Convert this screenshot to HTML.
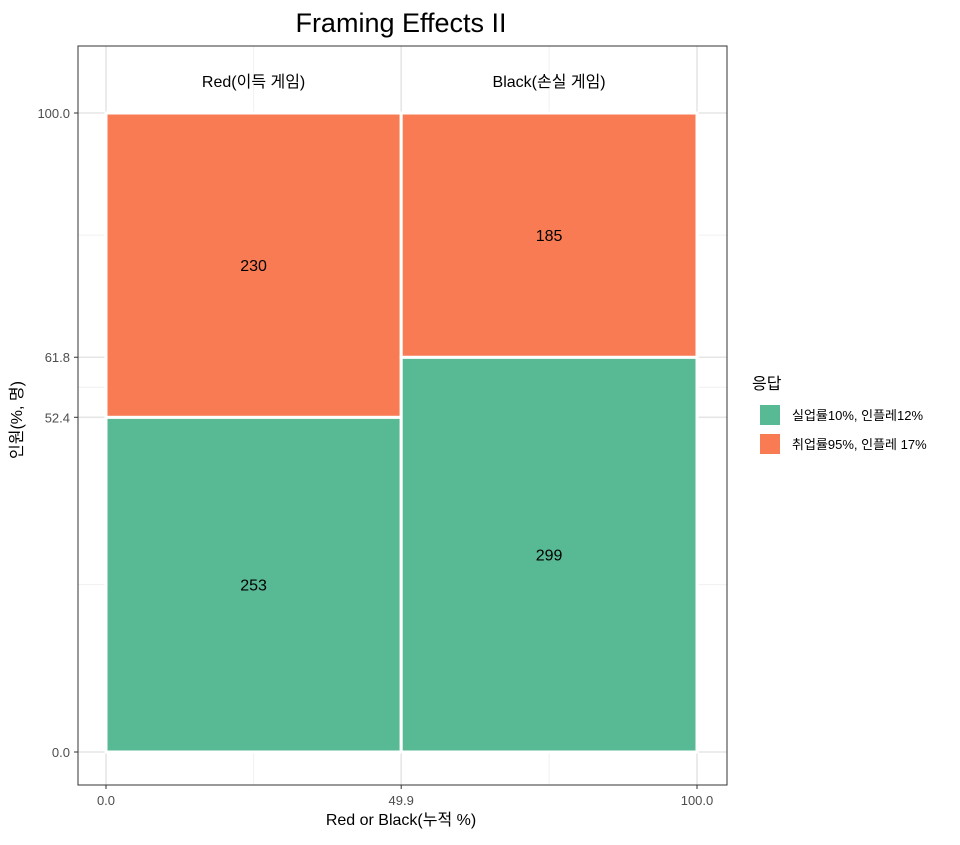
<!DOCTYPE html>
<html><head><meta charset="utf-8"><style>
body{margin:0;background:#fff;}
svg text{font-family:"Liberation Sans","Noto Sans CJK KR",sans-serif;}
</style></head><body>
<svg id="chart" width="960" height="840" xmlns="http://www.w3.org/2000/svg">
<rect width="960" height="840" fill="#fff"/>
<text x="401" y="32" font-size="27" text-anchor="middle" fill="#000">Framing Effects II</text>
<g id="grid"></g>
<g id="marks"></g>
<g id="axes"></g>
<rect x="78" y="46" width="649" height="739" fill="none" stroke="#333" stroke-width="1"/>
<text x="401" y="825" font-size="16" text-anchor="middle">Red or Black(누적 %)</text>
<text transform="translate(22,420) rotate(-90)" font-size="16" text-anchor="middle">인원(%, 명)</text>
<g>
<text x="752" y="389" font-size="16">응답</text>
<rect x="760" y="405" width="20" height="20" fill="#58B995"/>
<text x="792" y="420" font-size="13">실업률10%, 인플레12%</text>
<rect x="760" y="434" width="20" height="20" fill="#F97B53"/>
<text x="792" y="449" font-size="13">취업률95%, 인플레 17%</text>
</g>
</svg>
<script>
const categories=["Red(이득 게임)","Black(손실 게임)"];
const greenCounts=[253,299];
const orangeCounts=[230,185];
const colors=["#58B995","#F97B53"];
const ns="http://www.w3.org/2000/svg";
const X0=106,X1=697,Y0=752,Y1=113;
const xs=v=>X0+(X1-X0)*v/100, ys=v=>Y0-(Y0-Y1)*v/100;
function mk(tag,attrs,parent){const e=document.createElementNS(ns,tag);for(const k in attrs)e.setAttribute(k,attrs[k]);parent.appendChild(e);return e;}
const totals=categories.map((c,i)=>greenCounts[i]+orangeCounts[i]);
const grand=totals.reduce((a,b)=>a+b,0);
const widths=totals.map(t=>t/grand*100);
const cum=[0];widths.forEach((w,i)=>cum.push(cum[i]+w));
const greenPct=greenCounts.map((g,i)=>g/totals[i]*100);
const xt=[0,cum[1],100];
const yt=[0,greenPct[0],greenPct[1],100];
const grid=document.getElementById('grid'),marks=document.getElementById('marks'),axes=document.getElementById('axes');
// minor grid
const xmin=[(xt[0]+xt[1])/2,(xt[1]+xt[2])/2];
const ysorted=[...yt].sort((a,b)=>a-b);
const ymin=[];for(let i=0;i<ysorted.length-1;i++)ymin.push((ysorted[i]+ysorted[i+1])/2);
xmin.forEach(v=>{const l=mk('line',{x1:xs(v),x2:xs(v),y1:46,y2:785,stroke:'#f0f0f0','stroke-width':1},grid);});
ymin.forEach(v=>{const l=mk('line',{x1:78,x2:727,y1:ys(v),y2:ys(v),stroke:'#f0f0f0','stroke-width':1},grid);});
xt.forEach(v=>{const l=mk('line',{x1:xs(v),x2:xs(v),y1:46,y2:785,stroke:'#e6e6e6','stroke-width':1.6},grid);});
yt.forEach(v=>{const l=mk('line',{x1:78,x2:727,y1:ys(v),y2:ys(v),stroke:'#e6e6e6','stroke-width':1.6},grid);});
categories.forEach((c,i)=>{
 const xa=xs(cum[i]),xb=xs(cum[i+1]);
 const g=greenPct[i];
 const r1=mk('rect',{x:xa,y:ys(g),width:xb-xa,height:ys(0)-ys(g),fill:colors[0],stroke:'#fff','stroke-width':3},marks);
 
 const r2=mk('rect',{x:xa,y:ys(100),width:xb-xa,height:ys(g)-ys(100),fill:colors[1],stroke:'#fff','stroke-width':3},marks);
 
 const t1=mk('text',{x:(xa+xb)/2,y:(ys(0)+ys(g))/2+6,'font-size':16,'text-anchor':'middle'},marks);t1.textContent=greenCounts[i];
 
 const t2=mk('text',{x:(xa+xb)/2,y:(ys(g)+ys(100))/2+6,'font-size':16,'text-anchor':'middle'},marks);t2.textContent=orangeCounts[i];
 
 const t3=mk('text',{x:(xa+xb)/2,y:87,'font-size':16,'text-anchor':'middle'},marks);t3.textContent=c;
 
});
xt.forEach(v=>{
 const l=mk('line',{x1:xs(v),x2:xs(v),y1:785,y2:789,stroke:'#333'},axes);
 const t=mk('text',{x:xs(v),y:805,'font-size':13,'text-anchor':'middle',fill:'#4d4d4d'},axes);t.textContent=v.toFixed(1);
 
});
yt.forEach(v=>{
 const l=mk('line',{x1:74,x2:78,y1:ys(v),y2:ys(v),stroke:'#333'},axes);
 const t=mk('text',{x:70,y:ys(v)+5,'font-size':13,'text-anchor':'end',fill:'#4d4d4d'},axes);t.textContent=v.toFixed(1);
 
});
</script>
</body></html>
